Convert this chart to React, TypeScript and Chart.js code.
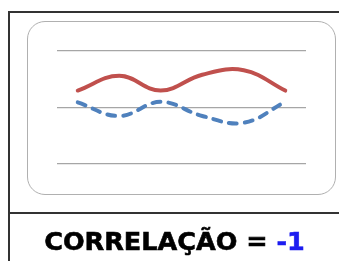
import React, { useEffect, useRef } from "react";
import { Chart, registerables } from "chart.js";

Chart.register(...registerables);

const categories = ["1", "2", "3", "4", "5", "6"];
const seriesA = [1.3, 1.56, 1.3, 1.58, 1.66, 1.3];
const seriesB = [1.09, 0.85, 1.1, 0.85, 0.73, 1.1];
const yTicks = [0, 1, 2];
const caption = "CORRELAÇÃO = ";
const captionValue = "-1";

export default function App() {
  const ref = useRef<HTMLCanvasElement | null>(null);

  useEffect(() => {
    if (!ref.current) return;
    const chart = new Chart(ref.current, {
      type: "line",
      data: {
        labels: categories,
        datasets: [
          {
            data: seriesA,
            borderColor: "#c0504d",
            borderWidth: 4,
            pointRadius: 0,
            tension: 0.4,
            borderCapStyle: "round",
            fill: false,
          },
          {
            data: seriesB,
            borderColor: "#4f81bd",
            borderWidth: 4,
            pointRadius: 0,
            tension: 0.4,
            borderDash: [8, 8],
            borderCapStyle: "round",
            fill: false,
          },
        ],
      },
      options: {
        animation: false,
        responsive: false,
        devicePixelRatio: 1,
        layout: { padding: { left: 57, right: 33, top: 51, bottom: 97 } },
        plugins: { legend: { display: false }, tooltip: { enabled: false } },
        scales: {
          x: { display: false, offset: true },
          y: {
            min: yTicks[0],
            max: yTicks[yTicks.length - 1],
            afterBuildTicks: (axis: any) => {
              axis.ticks = yTicks.map((v) => ({ value: v }));
            },
            ticks: { display: false },
            border: { display: false },
            grid: { color: "#a6a6a6", lineWidth: 1.2, drawTicks: false },
          },
        },
      },
    });
    return () => chart.destroy();
  }, []);

  return (
    <div
      style={{
        position: "absolute",
        left: 0,
        top: 0,
        width: 339,
        height: 261,
        background: "#fff",
        overflow: "hidden",
      }}
    >
      <div
        style={{
          position: "absolute",
          left: 8,
          top: 11,
          width: 340,
          height: 260,
          borderLeft: "2px solid #333",
          borderTop: "2px solid #333",
        }}
      />
      <div
        style={{
          position: "absolute",
          left: 8,
          top: 212,
          width: 340,
          height: 2,
          background: "#333",
        }}
      />
      <div
        style={{
          position: "absolute",
          left: 27,
          top: 21,
          width: 307,
          height: 172,
          border: "1px solid #b0b0b0",
          borderRadius: 18,
        }}
      />
      <canvas
        ref={ref}
        width={339}
        height={261}
        style={{ position: "absolute", left: 0, top: 0, width: 339, height: 261 }}
      />
      <div
        style={{
          position: "absolute",
          left: 10,
          top: 223,
          width: 329,
          textAlign: "center",
          fontFamily: "'DejaVu Sans', sans-serif",
          fontWeight: "bold",
          fontSize: 25.5,
          lineHeight: "36px",
          color: "#000",
          whiteSpace: "nowrap",
          WebkitTextStroke: "0.6px #000",
        }}
      >
        {caption}
        <span style={{ color: "#1c1cf0", WebkitTextStroke: "0.6px #1c1cf0" }}>
          {captionValue}
        </span>
      </div>
    </div>
  );
}
